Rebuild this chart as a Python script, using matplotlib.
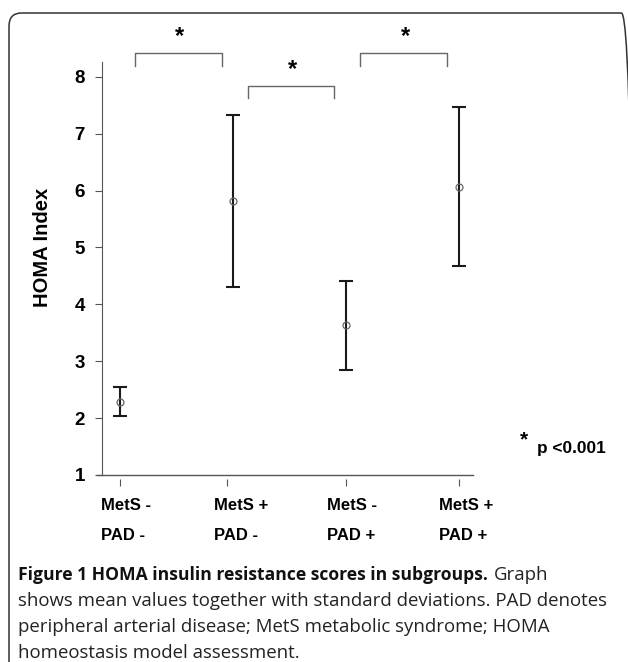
import numpy as np
import matplotlib.pyplot as plt
from matplotlib.patches import FancyBboxPatch

mets_labels = ['MetS -', 'MetS +', 'MetS -', 'MetS +']
pad_labels = ['PAD -', 'PAD -', 'PAD +', 'PAD +']
homa_mean = [2.29, 5.81, 3.63, 6.07]
homa_sd = [0.26, 1.51, 0.78, 1.40]
sig_pairs = [(0, 1), (1, 2), (2, 3)]
yticks = [1, 2, 3, 4, 5, 6, 7, 8]

W, H = 628, 662
fig = plt.figure(figsize=(W / 100, H / 100), dpi=100)

def fx(px):
    return px / W

def fy(py):
    return 1 - py / H

# rounded frame around the whole figure panel
frame = FancyBboxPatch((fx(9), fy(700)), fx(634 - 9), (700 - 13) / H,
                       boxstyle='round,pad=0,rounding_size=0.02',
                       transform=fig.transFigure, fill=False,
                       edgecolor='#333333', linewidth=1.1)
fig.patches.append(frame)

ax = fig.add_axes([fx(96.7), fy(475), fx(473 - 96.7), (475 - 31.2) / H])
x = np.arange(len(homa_mean))
ax.set_xlim(-0.206, 3.127)
ax.set_ylim(1, 8.8)

ax.errorbar(x, homa_mean, yerr=homa_sd, fmt='none', ecolor='#1a1a1a',
            elinewidth=1.5, capsize=4.8, capthick=1.5)
ax.plot(x, homa_mean, 'o', ms=5, mfc='none', mec='#666666', mew=0.9)

# axes styling (SPSS look)
for s in ['top', 'right']:
    ax.spines[s].set_visible(False)
ax.spines['left'].set_position(('data', -0.162))
ax.spines['left'].set_bounds(1, 8.264)
ax.spines['left'].set_color('#555555')
ax.spines['bottom'].set_visible(False)
ax.spines['bottom'].set_position(('outward', 3))
ax.axhline(1, color='#555555', lw=1.0, clip_on=False)

ax.set_yticks(yticks)
ax.set_yticklabels([str(t) for t in yticks], fontsize=13.5, fontweight='bold',
                   family='Liberation Sans')
ax.tick_params(axis='y', length=5, width=0.8, color='#555555', pad=7)
ax.set_xticks([0, 0.945, 2, 3])
ax.set_xticklabels([])
ax.tick_params(axis='x', length=5, width=0.8, color='#555555')

for i in range(len(mets_labels)):
    ax.annotate(mets_labels[i], xy=(i - 0.17, 0), xycoords=('data', 'axes fraction'),
                xytext=(0, -30), textcoords='offset pixels', ha='left', va='center',
                fontsize=12, fontweight='bold', family='Liberation Sans')
    ax.annotate(pad_labels[i], xy=(i - 0.17, 0), xycoords=('data', 'axes fraction'),
                xytext=(0, -61), textcoords='offset pixels', ha='left', va='center',
                fontsize=12, fontweight='bold', family='Liberation Sans')

# significance brackets
levels = [8.41, 7.84, 8.41]
for (a, b), lev in zip(sig_pairs, levels):
    x0, x1 = a + 0.13, b - 0.1
    ax.plot([x0, x0, x1, x1], [lev - 0.22, lev, lev, lev - 0.22],
            color='#666666', lw=1.0, clip_on=False)
    ax.text((a + b) / 2 + 0.03, lev + 0.18, '*', ha='center', va='baseline',
            fontsize=17, fontweight='bold', family='Liberation Sans')

fig.text(fx(43), fy(247.5), 'HOMA Index', rotation=90, ha='center', va='center',
         fontsize=14.5, fontweight='bold', family='Liberation Sans')

fig.text(fx(524), fy(440), '*', ha='center', va='center', fontsize=15,
         fontweight='bold', family='Liberation Sans')
fig.text(fx(537), fy(448), 'p <0.001', ha='left', va='center', fontsize=12.4,
         fontweight='bold', family='Liberation Sans')

# caption
cap_size = 13.4
fig.canvas.draw()
r = fig.canvas.get_renderer()
t_bold = fig.text(fx(18), fy(575), 'Figure 1 HOMA insulin resistance scores in subgroups.',
                  ha='left', va='center', fontsize=12.6, fontweight='bold',
                  family='Open Sans', color='#111111')
bb = t_bold.get_window_extent(renderer=r)
fig.text(bb.x1 / W + fx(6), fy(575), 'Graph', ha='left', va='center',
         fontsize=cap_size, family='Open Sans', color='#222222')
caption_lines = ['shows mean values together with standard deviations. PAD denotes',
                 'peripheral arterial disease; MetS metabolic syndrome; HOMA',
                 'homeostasis model assessment.']
for k, line in enumerate(caption_lines):
    fig.text(fx(18), fy(601 + 26 * k), line, ha='left', va='center',
             fontsize=cap_size, family='Open Sans', color='#222222')

fig.savefig('out.png', dpi=100)
